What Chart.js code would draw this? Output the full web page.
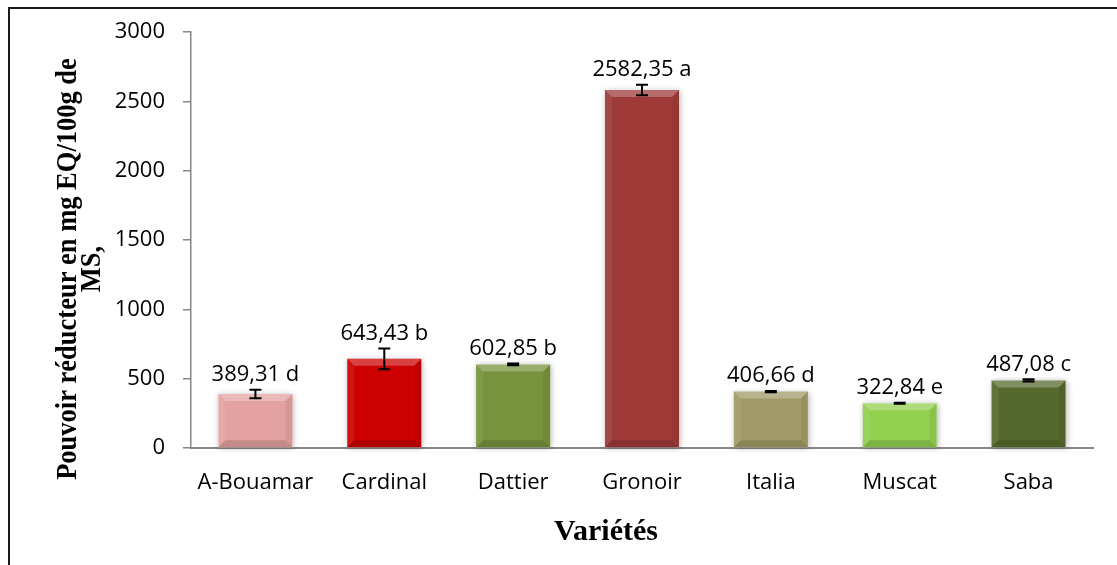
<!DOCTYPE html>
<html lang="fr">
<head>
<meta charset="utf-8">
<title>Pouvoir réducteur</title>
<script src="https://cdn.jsdelivr.net/npm/chart.js@4.4.0/dist/chart.umd.min.js"></script>
<style>
    html, body { margin: 0; padding: 0; background: #fff; }
    #cadre { width: 1117px; height: 565px; }
</style>
</head>
<body>
<div id="cadre"><canvas id="barChart" width="1117" height="565"></canvas></div>
<script>
// Données
const varietes = ["A-Bouamar", "Cardinal", "Dattier", "Gronoir", "Italia", "Muscat", "Saba"];
const valeurs = [389.31, 643.43, 602.85, 2582.35, 406.66, 322.84, 487.08];
const erreurs = [30, 75, 6, 38, 4, 4, 8];
const lettres = ["d", "b", "b", "a", "d", "e", "c"];
const couleurs = ["#E3A1A1", "#CC0000", "#77933C", "#9E3B39", "#A19A66", "#92D050", "#56692C"];
const ticksY = [0, 500, 1000, 1500, 2000, 2500, 3000];

const titreY = ["Pouvoir réducteur en mg EQ/100g de", "MS,"];
const titreX = "Variétés";

const policeTexte = "'Open Sans', sans-serif";
const gris = "#868686";

const ctx = document.getElementById("barChart").getContext("2d");

// Ombre douce sous les barres
const ombreBarres = {
    id: "ombreBarres",
    beforeDatasetsDraw(chart) {
        const c = chart.ctx;
        chart.getDatasetMeta(0).data.forEach((bar) => {
            const x0 = bar.x - bar.width / 2;
            c.save();
            c.shadowColor = "rgba(0,0,0,0.3)";
            c.shadowBlur = 6;
            c.shadowOffsetX = 1;
            c.shadowOffsetY = 1;
            c.fillStyle = "#ffffff";
            c.fillRect(x0, bar.y, bar.width, bar.base - bar.y);
            c.restore();
        });
    },
};

// Biseau, barres d'erreur et étiquettes
const decorBarres = {
    id: "decorBarres",
    afterDatasetsDraw(chart) {
        const c = chart.ctx;
        const y = chart.scales.y;
        chart.getDatasetMeta(0).data.forEach((bar, i) => {
            const x0 = bar.x - bar.width / 2;
            const x1 = bar.x + bar.width / 2;
            const haut = bar.y;
            const bas = bar.base;
            const b = 7;

            c.save();
            // bord haut clair
            c.fillStyle = "rgba(255,255,255,0.25)";
            c.beginPath();
            c.moveTo(x0, haut); c.lineTo(x1, haut); c.lineTo(x1 - b, haut + b); c.lineTo(x0 + b, haut + b);
            c.closePath(); c.fill();
            // bord gauche
            c.fillStyle = "rgba(255,255,255,0.07)";
            c.beginPath();
            c.moveTo(x0, haut); c.lineTo(x0 + b, haut + b); c.lineTo(x0 + b, bas - b); c.lineTo(x0, bas);
            c.closePath(); c.fill();
            // bord droit
            c.fillStyle = "rgba(0,0,0,0.06)";
            c.beginPath();
            c.moveTo(x1, haut); c.lineTo(x1 - b, haut + b); c.lineTo(x1 - b, bas - b); c.lineTo(x1, bas);
            c.closePath(); c.fill();
            // bord bas sombre
            c.fillStyle = "rgba(0,0,0,0.14)";
            c.beginPath();
            c.moveTo(x0, bas); c.lineTo(x1, bas); c.lineTo(x1 - b, bas - b); c.lineTo(x0 + b, bas - b);
            c.closePath(); c.fill();

            // barre d'erreur
            const yh = y.getPixelForValue(valeurs[i] + erreurs[i]);
            const yb = y.getPixelForValue(valeurs[i] - erreurs[i]);
            c.strokeStyle = "#000";
            c.lineWidth = 2;
            c.beginPath();
            c.moveTo(bar.x, yh); c.lineTo(bar.x, yb);
            c.moveTo(bar.x - 6, yh); c.lineTo(bar.x + 6, yh);
            c.moveTo(bar.x - 6, yb); c.lineTo(bar.x + 6, yb);
            c.stroke();

            // étiquette
            c.fillStyle = "#000";
            c.font = "22px " + policeTexte;
            c.textAlign = "center";
            c.textBaseline = "middle";
            const texte = valeurs[i].toFixed(2).replace(".", ",") + " " + lettres[i];
            c.fillText(texte, bar.x, Math.min(haut, yh) - 15);
            c.restore();
        });
    },
};

// Titres des axes et cadre
const titresCadre = {
    id: "titresCadre",
    afterDraw(chart) {
        const c = chart.ctx;
        c.save();
        // cadre
        c.strokeStyle = "#1a1a1a";
        c.lineWidth = 2;
        c.beginPath();
        c.moveTo(9, 565); c.lineTo(9, 8); c.lineTo(1117, 8);
        c.stroke();

        // titre Y
        const s = 1.15;
        c.fillStyle = "#000";
        c.font = "bold 26.5px 'Liberation Serif', serif";
        c.textAlign = "center";
        c.textBaseline = "alphabetic";
        c.translate(0, 269);
        c.rotate(-Math.PI / 2);
        c.scale(1, s);
        c.fillText(titreY[0], 0, 76 / s);
        c.fillText(titreY[1], 0, 100 / s);
        c.restore();

        // titre X
        c.save();
        c.fillStyle = "#000";
        c.font = "bold 30px 'Liberation Serif', serif";
        c.textAlign = "center";
        c.textBaseline = "alphabetic";
        c.fillText(titreX, 606, 540);
        c.restore();
    },
};

const chart = new Chart(ctx, {
    type: "bar",
    data: {
        labels: varietes,
        datasets: [
            {
                data: valeurs,
                backgroundColor: couleurs,
                borderWidth: 0,
                barPercentage: 0.575,
                categoryPercentage: 1,
            },
        ],
    },
    options: {
        responsive: false,
        animation: false,
        devicePixelRatio: 1,
        layout: { padding: { left: 0, right: 24, top: 32, bottom: 0 } },
        plugins: {
            legend: { display: false },
            tooltip: { enabled: false },
        },
        scales: {
            x: {
                grid: { display: false, drawTicks: false },
                border: { display: true, color: gris, width: 2 },
                ticks: { color: "#000", font: { family: policeTexte, size: 22 }, padding: 22 },
                afterFit(scale) { scale.height = 117; },
            },
            y: {
                min: 0,
                max: 3000,
                afterBuildTicks(scale) { scale.ticks = ticksY.map((v) => ({ value: v })); },
                grid: { drawOnChartArea: false, drawTicks: true, tickLength: 8, color: gris, lineWidth: 1.5 },
                border: { display: true, color: gris, width: 1.5 },
                ticks: {
                    color: "#000",
                    font: { family: policeTexte, size: 22 },
                    padding: 18,
                    callback: (v) => String(v),
                },
                afterFit(scale) { scale.width = 191; },
            },
        },
    },
    plugins: [ombreBarres, decorBarres, titresCadre],
});
</script>
</body>
</html>
